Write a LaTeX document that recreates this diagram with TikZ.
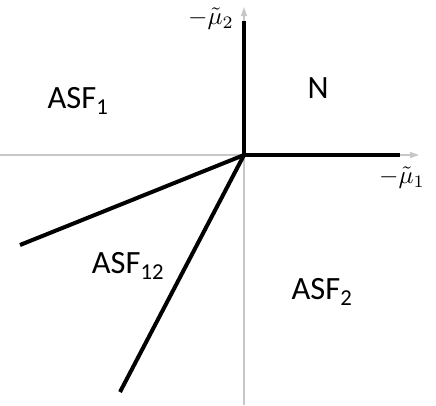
\documentclass[tikz,border=0pt]{standalone}
\usepackage{fontspec}
\setmainfont{Carlito}
\usepackage{amsmath}
\usepackage{graphicx}
\usetikzlibrary{arrows.meta}
\begin{document}
\begin{tikzpicture}[x=1pt,y=-1pt,
  axis/.style={draw=black!22,line width=1.5pt,-{Triangle[length=9pt,width=6pt]}},
  bound/.style={line width=4pt,line cap=butt},
  region/.style={font=\fontsize{32.5}{36}\selectfont},
  axlabel/.style={inner sep=0pt}]
\useasboundingbox (0,0) rectangle (436,405);
\coordinate (O) at (244,155);
\coordinate (xl) at (0,155);
\coordinate (xr) at (419,155);
\coordinate (yb) at (244,405);
\coordinate (yt) at (244,7);
\draw[axis] (xl) -- (xr);
\draw[axis] (yb) -- (yt);
\coordinate (b1) at (400,155);
\coordinate (b2) at (244,21);
\coordinate (b3) at (20,245);
\coordinate (b4) at (120,392);
\draw[bound] (b2) -- (O) -- (b1);
\draw[bound] (O) -- (b3);
\draw[bound] (O) -- (b4);
\node[axlabel] (l2) at (211,19) {\scalebox{2.5}{$-\tilde{\mu}_2$}};
\node[axlabel] (l1) at (402,178) {\scalebox{2.5}{$-\tilde{\mu}_1$}};
\node[region] (n) at (318,88) {N};
\node[region] (a1) at (78,101) {ASF\textsubscript{1}};
\node[region] (a12) at (128,266) {ASF\textsubscript{12}};
\node[region] (a2) at (322,292) {ASF\textsubscript{2}};
\end{tikzpicture}
\end{document}
